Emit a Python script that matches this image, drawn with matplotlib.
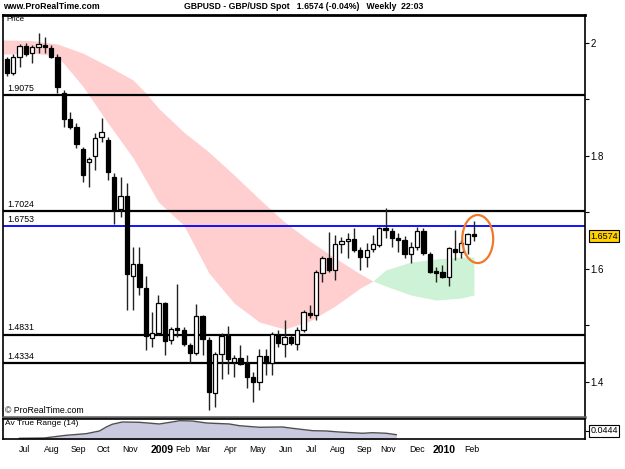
import matplotlib
matplotlib.use("Agg")
import matplotlib.pyplot as plt
from matplotlib.patches import Ellipse
import matplotlib.transforms as mtransforms
import numpy as np

plt.rcParams['font.family'] = ['Liberation Sans', 'DejaVu Sans']

# ---------------- data ----------------
opens = [1.9703,1.9455,1.9738,1.9938,1.9809,1.9915,1.9961,1.9897,1.9749,1.9111,
         1.8641,1.8510,1.8110,1.7880,1.7991,1.8322,1.8274,1.7614,1.7048,1.7283,
         1.5867,1.6074,1.5660,1.4775,1.4864,1.5395,1.4735,1.4942,1.4906,1.4646,
         1.4499,1.5159,1.4735,1.3791,1.4487,1.4811,1.4350,1.4411,1.4322,1.4085,
         1.3986,1.4451,1.4322,1.4823,1.4664,1.4793,1.4664,1.4912,1.5218,1.5177,
         1.5926,1.6181,1.5973,1.6434,1.6481,1.6517,1.6327,1.6198,1.6340,1.6416,
         1.6712,1.6669,1.6535,1.6504,1.6257,1.6381,1.6669,1.6257,1.5961,1.5943,
         1.5844,1.6340,1.6297,1.6434,1.6611]
closes = [1.9455,1.9752,1.9938,1.9796,1.9915,1.9973,1.9926,1.9749,1.9207,1.8641,
          1.8504,1.8204,1.7655,1.7938,1.8304,1.8421,1.7713,1.7035,1.7283,1.5897,
          1.6074,1.5667,1.4805,1.4853,1.5395,1.4722,1.4935,1.4912,1.4658,1.4499,
          1.5159,1.4747,1.3809,1.4487,1.4811,1.4398,1.4411,1.4304,1.4074,1.3997,
          1.4451,1.4322,1.4835,1.4676,1.4793,1.4676,1.4912,1.5235,1.5172,1.5943,
          1.6181,1.5973,1.6434,1.6492,1.6517,1.6327,1.6198,1.6327,1.6428,1.6712,
          1.6676,1.6535,1.6499,1.6257,1.6381,1.6669,1.6269,1.5943,1.5926,1.5844,
          1.6358,1.6297,1.6446,1.6611,1.6574]
highs = [1.9743,1.9796,1.9973,1.9996,1.9956,2.0163,2.0092,1.9956,1.9796,1.9159,
         1.8775,1.8575,1.8156,1.7979,1.8393,1.8658,1.8322,1.7685,1.7625,1.7508,
         1.6386,1.6386,1.5873,1.5235,1.5531,1.5407,1.4970,1.5720,1.4970,1.4676,
         1.5372,1.5177,1.4793,1.4527,1.4853,1.4982,1.4469,1.4646,1.4469,1.4173,
         1.4570,1.4570,1.4881,1.4912,1.5088,1.4823,1.4959,1.5265,1.5354,1.5973,
         1.6221,1.6651,1.6593,1.6563,1.6623,1.6726,1.6381,1.6457,1.6593,1.6740,
         1.7071,1.6712,1.6623,1.6575,1.6474,1.6740,1.6712,1.6292,1.6032,1.6062,
         1.6386,1.6681,1.6504,1.6634,1.6846]
lows = [1.9407,1.9425,1.9572,1.9761,1.9632,1.9819,1.9809,1.9726,1.9101,1.8510,
        1.8469,1.8127,1.7536,1.7437,1.7743,1.8244,1.7566,1.6788,1.6917,1.5265,
        1.5265,1.5531,1.4558,1.4616,1.4823,1.4469,1.4664,1.4793,1.4634,1.4333,
        1.4469,1.4469,1.3496,1.3543,1.4039,1.4127,1.4085,1.4292,1.3880,1.3642,
        1.3850,1.4115,1.4115,1.4616,1.4439,1.4646,1.4558,1.4881,1.5119,1.5088,
        1.5766,1.5943,1.5796,1.6269,1.6186,1.6292,1.5973,1.6032,1.6297,1.6386,
        1.6535,1.6386,1.6297,1.6195,1.6092,1.6327,1.6239,1.5926,1.5766,1.5827,
        1.5690,1.6150,1.6186,1.6257,1.6492]

# moving-average band (slow / fast), sampled at week indices
band_idx = [-0.7, 0, 4, 8, 12, 16, 20, 22, 24, 28, 32, 36, 40, 44, 48, 52, 56, 58, 60, 64, 68, 72, 74]
ma_slow = [2.0044, 2.0044, 2.0035, 1.9973, 1.9814, 1.9584, 1.9336, 1.9106, 1.8841, 1.8416, 1.8062,
           1.7655, 1.7230, 1.6823, 1.6487, 1.6186, 1.5903, 1.5779, 1.5690, 1.5531, 1.5442, 1.5478, 1.5531]
ma_fast = [1.9796, 1.9796, 1.9814, 1.9761, 1.9230, 1.8575, 1.7956, 1.7566, 1.7177, 1.6770, 1.5920,
           1.5389, 1.5053, 1.4929, 1.5071, 1.5336, 1.5655, 1.5779, 1.5973, 1.6115, 1.6168, 1.6204, 1.6204]

# support / resistance levels
levels = [1.9075, 1.7024, 1.6753, 1.4831, 1.4334]
level_labels = ["1.9075", "1.7024", "1.6753", "1.4831", "1.4334"]
level_colors = ["black", "black", "#0000ff", "black", "black"]

# ATR (14)
atr_idx = [2.9, 7.6, 11.7, 15.5, 18.0, 19.3, 20.4, 22.3, 25.5, 29.3, 31.7, 33.1, 35.5, 38.2,
           42.5, 44.4, 48.2, 52.5, 54.4, 58.2, 60.8, 63.2, 67.6, 69.5, 72.1, 74.0]
atr_val = [0.0301, 0.0313, 0.0420, 0.0484, 0.0591, 0.0750, 0.0857, 0.0948, 0.0936, 0.0869, 0.0948,
           0.1000, 0.0988, 0.0908, 0.0869, 0.0801, 0.0738, 0.0750, 0.0698, 0.0603, 0.0591, 0.0551,
           0.0500, 0.0523, 0.0500, 0.0444]

month_labels = ["Jul", "Aug", "Sep", "Oct", "Nov", "2009", "Feb", "Mar", "Apr", "May", "Jun",
                "Jul", "Aug", "Sep", "Nov", "Dec", "2010", "Feb"]
month_pos = [3.8, 9.1, 14.0, 18.7, 23.8, 29.8, 33.8, 37.6, 42.7, 47.8, 53.1,
             58.0, 62.9, 68.0, 72.5, 78.0, 83.1, 88.2]

price_ticks = [1.4, 1.5, 1.6, 1.7, 1.8, 1.9, 2.0]
price_tick_labels = ["1.4", "", "1.6", "", "1.8", "", "2"]

last_price = "1.6574"
last_atr = "0.0444"

# ---------------- figure ----------------
W, H = 625, 469
fig = plt.figure(figsize=(W / 100, H / 100), dpi=100)
fig.patch.set_facecolor("white")

ax = fig.add_axes([3 / W, (H - 416.5) / H, 582 / W, 401.5 / H])
ax2 = fig.add_axes([3 / W, (H - 439) / H, 582 / W, 20 / H])

x = np.arange(len(opens))
o = np.array(opens); c = np.array(closes); h = np.array(highs); l = np.array(lows)

# band fill
bi = np.array(band_idx); s = np.array(ma_slow); f = np.array(ma_fast)
ax.fill_between(bi, s, f, where=s >= f, interpolate=True, color="#ffcfcf", lw=0, zorder=1)
ax.fill_between(bi, s, f, where=f >= s, interpolate=True, color="#cdf2d5", lw=0, zorder=1)

# horizontal levels
for lv, lab, col in zip(levels, level_labels, level_colors):
    lw = 1.6 if col == "black" else 1.3
    ax.axhline(lv, color=col, lw=lw, zorder=2)
    ax.annotate(lab, xy=(0, lv), xycoords=("axes fraction", "data"), xytext=(3, 1.5),
                textcoords="offset points", fontsize=6.3, va="bottom", ha="left", zorder=3)

# candles
ax.vlines(x, l, h, color="#222222", lw=1.0, zorder=4)
up = c >= o
body_bot = np.minimum(o, c)
body_h = np.maximum(np.abs(c - o), 0.0008)
ax.bar(x[up], body_h[up], bottom=body_bot[up], width=0.68, facecolor="white",
       edgecolor="black", lw=0.9, zorder=5)
ax.bar(x[~up], body_h[~up], bottom=body_bot[~up], width=0.68, facecolor="black",
       edgecolor="black", lw=0.9, zorder=5)

# highlight ellipse around last candle
ax.add_patch(Ellipse((74.6, 1.6522), 4.9, 0.085, fill=False, edgecolor="#f07828", lw=1.6, zorder=6))

ax.set_xlim(-0.63, 91.6)
ax.set_ylim(1.3381, 2.0487)
ax.set_xticks([])
ax.yaxis.tick_right()
ax.set_yticks(price_ticks)
ax.set_yticklabels(price_tick_labels, fontsize=7)
ax.tick_params(axis="y", length=3, width=0.8, pad=1, direction="out")
for sp in ax.spines.values():
    sp.set_linewidth(1.2)
ax.spines["top"].set_linewidth(2.0)
ax.spines["bottom"].set_color("#606060")
ax.spines["bottom"].set_linewidth(1.8)

ax.text(0.006, 0.997, "Price", transform=ax.transAxes, fontsize=5.8, va="top", ha="left")
ax.text(0.003, 0.004, "\u00a9 ProRealTime.com", transform=ax.transAxes, fontsize=6.3,
        va="bottom", ha="left")

# last price box
trans = mtransforms.blended_transform_factory(ax.transAxes, ax.transData)
ax.text(1.009, float(last_price), last_price, transform=trans, fontsize=6.5, va="center",
        ha="left", bbox=dict(boxstyle="square,pad=0.15", facecolor="#ffd200", edgecolor="black", lw=0.8),
        clip_on=False)

# ATR panel
ax2.fill_between(atr_idx, atr_val, 0, color="#c9c9df", lw=0, zorder=1)
ax2.plot(atr_idx, atr_val, color="#505050", lw=1.0, zorder=2)
ax2.set_xlim(-0.2, 109.6)
ax2.set_ylim(0.0273, 0.1067)
ax2.set_xticks(month_pos)
ax2.set_xticklabels(month_labels, fontsize=6.3)
for t in ax2.get_xticklabels():
    if t.get_text() in ("2009", "2010"):
        t.set_fontweight("bold")
        t.set_fontsize(7.5)
ax2.tick_params(axis="x", length=0, pad=4)
ax2.yaxis.tick_right()
ax2.set_yticks([0.0603])
ax2.set_yticklabels([""])
ax2.tick_params(axis="y", length=3, width=0.8)
for sp in ax2.spines.values():
    sp.set_linewidth(1.2)
ax2.text(0.004, 0.93, "Av True Range (14)", transform=ax2.transAxes, fontsize=6.0, va="top", ha="left")
ax2.text(1.009, 0.415, last_atr, transform=ax2.transAxes, fontsize=6.5, va="center", ha="left",
         bbox=dict(boxstyle="square,pad=0.15", facecolor="white", edgecolor="black", lw=0.8),
         clip_on=False)

# header
fig.text(3 / W, 1 - 6.5 / H, "www.ProRealTime.com", fontsize=6.3, fontweight="bold", va="center", ha="left")
fig.text(304 / W, 1 - 6.5 / H, "GBPUSD - GBP/USD Spot   1.6574 (-0.04%)   Weekly  22:03",
         fontsize=6.2, fontweight="bold", va="center", ha="center")

fig.savefig("out.png", dpi=100, facecolor="white")
